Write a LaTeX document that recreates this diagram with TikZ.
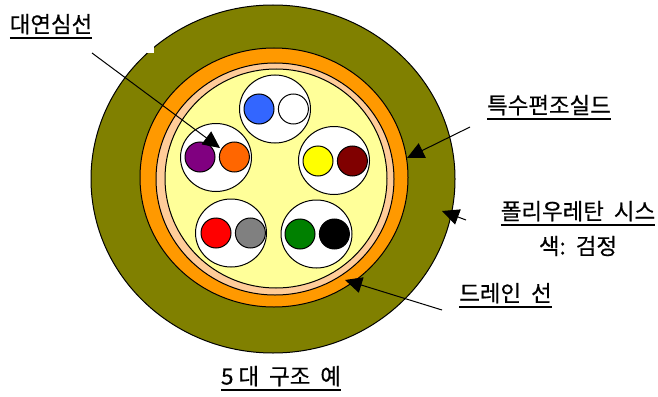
\documentclass[tikz,border=0pt]{standalone}
\usepackage{fontspec}
\setmainfont{Noto Sans CJK KR}[FakeBold=0.5]
\usetikzlibrary{arrows.meta, positioning, shapes.geometric}
\definecolor{jacketx}{HTML}{808000}
\definecolor{shieldx}{HTML}{FF9900}
\definecolor{peachx}{HTML}{FFCC99}
\definecolor{corex}{HTML}{FFFF99}
\definecolor{bluex}{HTML}{3366FF}
\definecolor{purplex}{HTML}{800080}
\definecolor{orangex}{HTML}{FF6600}
\definecolor{yellowx}{HTML}{FFFF00}
\definecolor{maroonx}{HTML}{800000}
\definecolor{redx}{HTML}{FF0000}
\definecolor{grayx}{HTML}{808080}
\definecolor{greenx}{HTML}{008000}
% text with a heavy rule below it
\newcommand{\rulelabel}[1]{\setbox0=\hbox{#1}\rlap{\rule[-6.5pt]{\wd0}{2pt}}\box0}

\begin{document}
\begin{tikzpicture}[
      x=1pt, y=-1pt,
      node distance=3.4pt,
      layer/.style={ellipse, draw=black, line width=1pt, inner sep=0pt},
      pair/.style={ellipse, draw=black, line width=1pt, fill=white, inner sep=0pt,
                   minimum width=71pt, minimum height=68pt},
      wire/.style={circle, draw=black, line width=1pt, inner sep=0pt, minimum size=30pt},
      lbl/.style={inner sep=0pt, font=\fontsize{22.4}{26}\selectfont, align=center},
      arr/.style={-{Triangle[length=17pt,width=16pt]}, line width=1pt}
    ]
    \useasboundingbox (0,0) rectangle (658,396);
    \node[layer, fill=jacketx, minimum width=364pt, minimum height=348pt] (jacket) at (273,179) {};
    \node[layer, fill=shieldx, minimum width=268pt, minimum height=259pt] (shield) at (274,177.5) {};
    \node[layer, fill=peachx, minimum width=238pt, minimum height=232pt] (tape) at (275,179) {};
    \node[layer, fill=corex, minimum width=222pt, minimum height=219pt] (core) at (276,178.5) {};
    \fill[white] (147,45) rectangle (154,53);
    \node[pair] (p1) at (275,109) {};
    \node[pair] (p2) at (216,157.5) {};
    \node[pair] (p3) at (334,160.5) {};
    \node[pair] (p4) at (231,233) {};
    \node[pair] (p5) at (316.5,234) {};
    \node[wire, fill=bluex] (w1a) at (259,109) {};
    \node[wire, fill=white, right=of w1a] (w1b) {};
    \node[wire, fill=purplex] (w2a) at (200,157) {};
    \node[wire, fill=orangex, right=of w2a] (w2b) {};
    \node[wire, fill=yellowx] (w3a) at (318,161) {};
    \node[wire, fill=maroonx, right=of w3a] (w3b) {};
    \node[wire, fill=redx] (w4a) at (216,233) {};
    \node[wire, fill=grayx, right=of w4a] (w4b) {};
    \node[wire, fill=greenx] (w5a) at (300,234) {};
    \node[wire, fill=black, right=of w5a] (w5b) {};
    \node[lbl] (lpair) at (51,26.5) {\rulelabel{대연심선}};
    \node[lbl] (lshield) at (549,107.5) {\rulelabel{특수편조실드}};
    \node[lbl] (ljacket) at (578,213.5) {\rulelabel{폴리우레탄\ \ 시스}};
    \node[lbl] (lcolor) at (578,246) {색:\ \ 검정};
    \node[lbl] (ldrain) at (505.5,295.5) {\rulelabel{드레인\ \ 선}};
    \node[lbl] (lcaption) at (281,378.5) {\rulelabel{5\ 대\ \ 구조\ \ 예}};
    \coordinate (a1) at (92,53);
    \coordinate (b1) at (220,148);
    \coordinate (a2) at (470,127);
    \coordinate (b2) at (407,158);
    \coordinate (a3) at (466,220);
    \coordinate (b3) at (442,211);
    \coordinate (a4) at (442,310);
    \coordinate (b4) at (345,280);
    \draw[arr] (a1) -- (b1);
    \draw[arr] (a2) -- (b2);
    \draw[arr] (a3) -- (b3);
    \draw[arr] (a4) -- (b4);
  \end{tikzpicture}
\end{document}
